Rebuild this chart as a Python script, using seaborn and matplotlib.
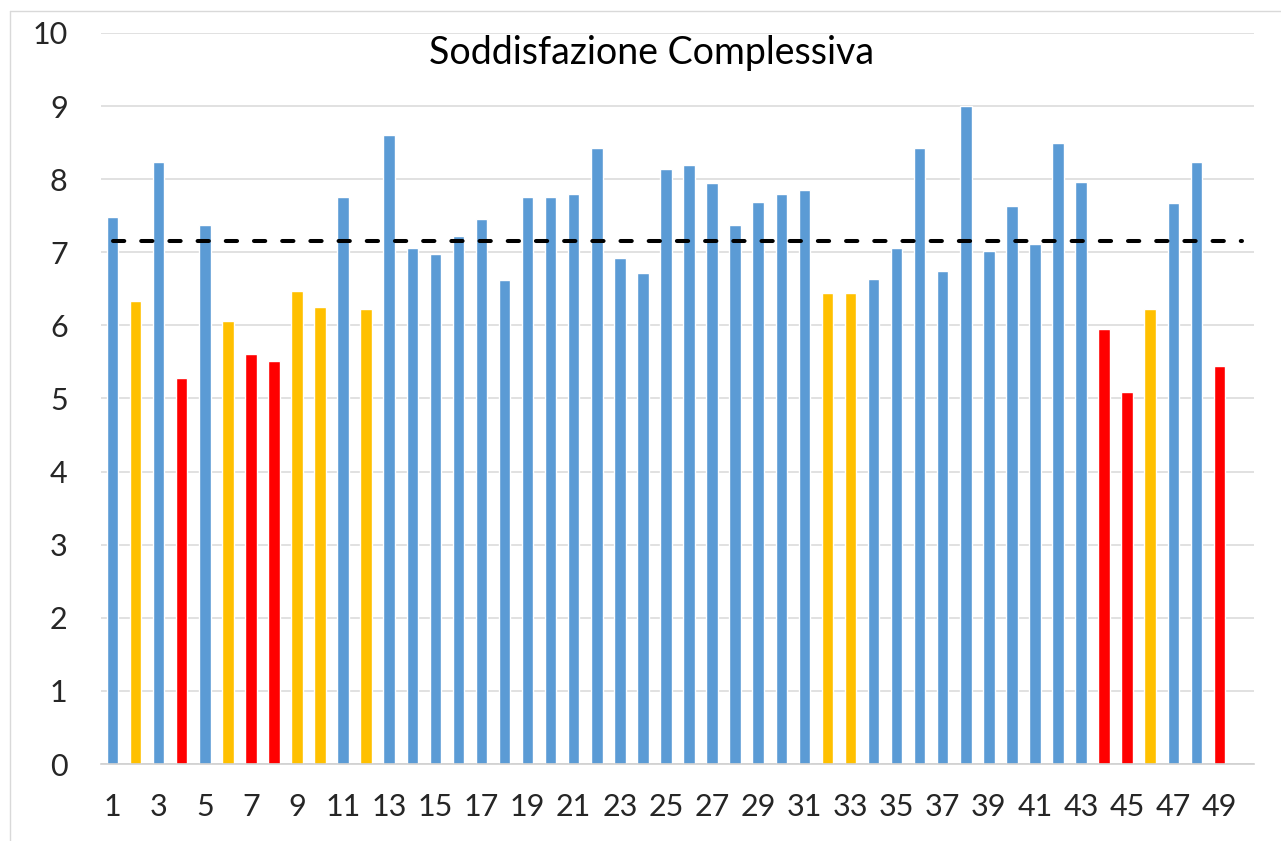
import numpy as np
import matplotlib.pyplot as plt
import seaborn as sns
import pandas as pd
from matplotlib.lines import Line2D

# %%
# punteggi per struttura (1..49), categoria 50 vuota come nel foglio excel
valori = [7.48, 6.33, 8.23, 5.28, 7.37, 6.06, 5.61, 5.51, 6.47, 6.25,
          7.75, 6.22, 8.60, 7.06, 6.97, 7.22, 7.45, 6.62, 7.75, 7.75,
          7.80, 8.43, 6.92, 6.72, 8.14, 8.19, 7.95, 7.37, 7.69, 7.80,
          7.85, 6.45, 6.44, 6.63, 7.06, 8.43, 6.75, 9.00, 7.02, 7.64,
          7.11, 8.49, 7.96, 5.95, 5.09, 6.22, 7.68, 8.23, 5.44]
fascia = ['ok', 'medio', 'ok', 'basso', 'ok', 'medio', 'basso', 'basso', 'medio', 'medio',
          'ok', 'medio', 'ok', 'ok', 'ok', 'ok', 'ok', 'ok', 'ok', 'ok',
          'ok', 'ok', 'ok', 'ok', 'ok', 'ok', 'ok', 'ok', 'ok', 'ok',
          'ok', 'medio', 'medio', 'ok', 'ok', 'ok', 'ok', 'ok', 'ok', 'ok',
          'ok', 'ok', 'ok', 'basso', 'basso', 'medio', 'ok', 'ok', 'basso']
media = 7.15
categorie = [str(i) for i in range(1, 51)]
colori = {'ok': '#5B9BD5', 'medio': '#FFC000', 'basso': '#FF0000'}

df = pd.DataFrame({'n': categorie[:len(valori)], 'voto': valori, 'fascia': fascia})

# %%
sns.set_theme(style='white')
plt.rcParams['font.family'] = ['Lato', 'DejaVu Sans']

fig = plt.figure(figsize=(12.81, 8.41), dpi=100)
ax = fig.add_axes([101 / 1281, 1 - 764 / 841, (1254 - 101) / 1281, (764 - 33) / 841])

sns.barplot(data=df, x='n', y='voto', hue='fascia', order=categorie,
            palette=colori, dodge=False, width=0.5, legend=False,
            saturation=1, ax=ax)

# linea della media (serie da 1 a 50)
ax.plot(np.arange(len(categorie)), [media] * len(categorie), color='black',
        lw=2.9, ls=(0, (2.8, 4.2)), dash_capstyle='round', zorder=5)

ax.set_ylim(0, 10)
ax.set_xlim(-0.5, len(categorie) - 0.5)
ax.set_yticks(range(0, 11))
ax.set_xticks(range(0, 49, 2))
ax.set_xticklabels(categorie[0:49:2])
ax.tick_params(axis='y', length=0, pad=24, labelsize=22)
ax.tick_params(axis='x', length=0, pad=21, labelsize=22)
ax.grid(axis='y', color='#D9D9D9', lw=1.1)
ax.set_axisbelow(True)
for s in ['left', 'right', 'top']:
    ax.spines[s].set_visible(False)
ax.spines['bottom'].set_color('#D0D0D0')
ax.spines['bottom'].set_linewidth(1.2)
ax.set_xlabel('')
ax.set_ylabel('')

fig.text(652 / 1281, 1 - 53 / 841, 'Soddisfazione Complessiva', ha='center', va='center',
         fontsize=27, color='black')

# bordo area grafico
fig.add_artist(Line2D([10 / 1281, 10 / 1281], [0, 1 - 11 / 841], color='#D9D9D9', lw=1, transform=fig.transFigure))
fig.add_artist(Line2D([10 / 1281, 1], [1 - 11 / 841, 1 - 11 / 841], color='#D9D9D9', lw=1, transform=fig.transFigure))

plt.savefig('out.png', dpi=100)
